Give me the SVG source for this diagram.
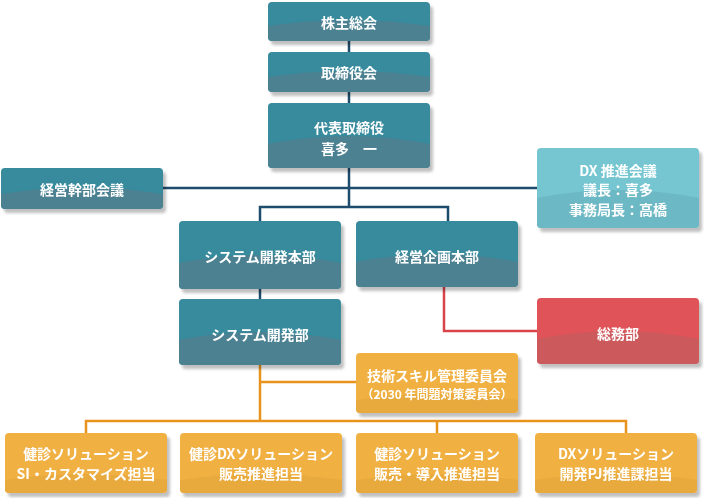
<svg xmlns="http://www.w3.org/2000/svg" width="704" height="498" viewBox="0 0 704 498">
<defs>
<filter id="sh" x="-10%" y="-10%" width="130%" height="140%">
<feGaussianBlur in="SourceAlpha" stdDeviation="1.5"/>
<feOffset dx="3" dy="4" result="o"/>
<feComponentTransfer><feFuncA type="linear" slope="0.25"/></feComponentTransfer>
<feMerge><feMergeNode/><feMergeNode in="SourceGraphic"/></feMerge>
</filter>
<style>
text{font-family:"Noto Sans CJK JP","Noto Sans",sans-serif;font-weight:bold;font-size:14px;fill:#fff;text-anchor:middle;dominant-baseline:central}
.t1{fill:#378a9d}.b1{fill:#4b8191}
.t2{fill:#74c6d1}.b2{fill:#6cb8c4}
.t3{fill:#e05258}.b3{fill:#cc5a5d}
.t4{fill:#f0b043}.b4{fill:#e9aa3e}
.ln{fill:none;stroke-width:2.5}
.nv{stroke:#1e4c6c}.rd{stroke:#d9444b}.or{stroke:#e8931e}
.sm{font-size:12px}
</style>
</defs>
<g id="connectors">
<path class="ln nv" d="M349 41V52M349 92V103M349 168V207M163 188H537M260 221V207H448V221M260 289V299"/>
<path class="ln rd" d="M444 287V331H537"/>
<path class="ln or" d="M260 365V421M260 382H356M86 433V421H626V433M437 421V433"/>
</g>
<g id="n1" filter="url(#sh)"><rect class="t1" x="268" y="2" width="162" height="39" rx="4"/><path class="b1" d="M268 26Q349 14 430 26V37a4 4 0 0 1-4 4H272a4 4 0 0 1-4-4Z"/><text x="349" y="22">株主総会</text></g>
<g id="n2" filter="url(#sh)"><rect class="t1" x="268" y="52" width="162" height="40" rx="4"/><path class="b1" d="M268 77Q349 65 430 77V88a4 4 0 0 1-4 4H272a4 4 0 0 1-4-4Z"/><text x="349" y="72">取締役会</text></g>
<g id="n3" filter="url(#sh)"><rect class="t1" x="268" y="103" width="162" height="65" rx="4"/><path class="b1" d="M268 144Q349 128 430 144V164a4 4 0 0 1-4 4H272a4 4 0 0 1-4-4Z"/><text x="349" y="127">代表取締役</text><text x="349" y="148">喜多　一</text></g>
<g id="n4" filter="url(#sh)"><rect class="t1" x="1" y="168" width="162" height="41" rx="4"/><path class="b1" d="M1 194Q82 181 163 194V205a4 4 0 0 1-4 4H5a4 4 0 0 1-4-4Z"/><text x="82" y="189">経営幹部会議</text></g>
<g id="n5" filter="url(#sh)"><rect class="t2" x="537" y="148" width="162" height="80" rx="4"/><path class="b2" d="M537 198Q618 182 699 198V224a4 4 0 0 1-4 4H541a4 4 0 0 1-4-4Z"/><text x="618" y="170">DX 推進会議</text><text x="618" y="189">議長：喜多</text><text x="618" y="209">事務局長：高橋</text></g>
<g id="n6" filter="url(#sh)"><rect class="t1" x="179" y="221" width="162" height="68" rx="4"/><path class="b1" d="M179 263Q260 247 341 263V285a4 4 0 0 1-4 4H183a4 4 0 0 1-4-4Z"/><text x="260" y="256">システム開発本部</text></g>
<g id="n7" filter="url(#sh)"><rect class="t1" x="356" y="221" width="162" height="66" rx="4"/><path class="b1" d="M356 262Q437 246 518 262V283a4 4 0 0 1-4 4H360a4 4 0 0 1-4-4Z"/><text x="437" y="256">経営企画本部</text></g>
<g id="n8" filter="url(#sh)"><rect class="t1" x="179" y="299" width="162" height="66" rx="4"/><path class="b1" d="M179 340Q260 324 341 340V361a4 4 0 0 1-4 4H183a4 4 0 0 1-4-4Z"/><text x="260" y="334">システム開発部</text></g>
<g id="n9" filter="url(#sh)"><rect class="t3" x="537" y="298" width="162" height="66" rx="4"/><path class="b3" d="M537 339Q618 323 699 339V360a4 4 0 0 1-4 4H541a4 4 0 0 1-4-4Z"/><text x="618" y="333">総務部</text></g>
<g id="n10" filter="url(#sh)"><rect class="t4" x="356" y="353" width="162" height="60" rx="4"/><path class="b4" d="M356 400Q437 388 518 400V409a4 4 0 0 1-4 4H360a4 4 0 0 1-4-4Z"/><text x="437" y="375">技術スキル管理委員会</text><text class="sm" x="437" y="393">（2030 年問題対策委員会）</text></g>
<g id="n11" filter="url(#sh)"><rect class="t4" x="5" y="433" width="162" height="60" rx="4"/><path class="b4" d="M5 480Q86 468 167 480V489a4 4 0 0 1-4 4H9a4 4 0 0 1-4-4Z"/><text x="86" y="453">健診ソリューション</text><text x="86" y="473">SI・カスタマイズ担当</text></g>
<g id="n12" filter="url(#sh)"><rect class="t4" x="180" y="433" width="162" height="60" rx="4"/><path class="b4" d="M180 480Q261 468 342 480V489a4 4 0 0 1-4 4H184a4 4 0 0 1-4-4Z"/><text x="261" y="453">健診DXソリューション</text><text x="261" y="473">販売推進担当</text></g>
<g id="n13" filter="url(#sh)"><rect class="t4" x="356" y="433" width="162" height="60" rx="4"/><path class="b4" d="M356 480Q437 468 518 480V489a4 4 0 0 1-4 4H360a4 4 0 0 1-4-4Z"/><text x="437" y="453">健診ソリューション</text><text x="437" y="473">販売・導入推進担当</text></g>
<g id="n14" filter="url(#sh)"><rect class="t4" x="535" y="433" width="162" height="60" rx="4"/><path class="b4" d="M535 480Q616 468 697 480V489a4 4 0 0 1-4 4H539a4 4 0 0 1-4-4Z"/><text x="616" y="453">DXソリューション</text><text x="616" y="473">開発PJ推進課担当</text></g>
</svg>
